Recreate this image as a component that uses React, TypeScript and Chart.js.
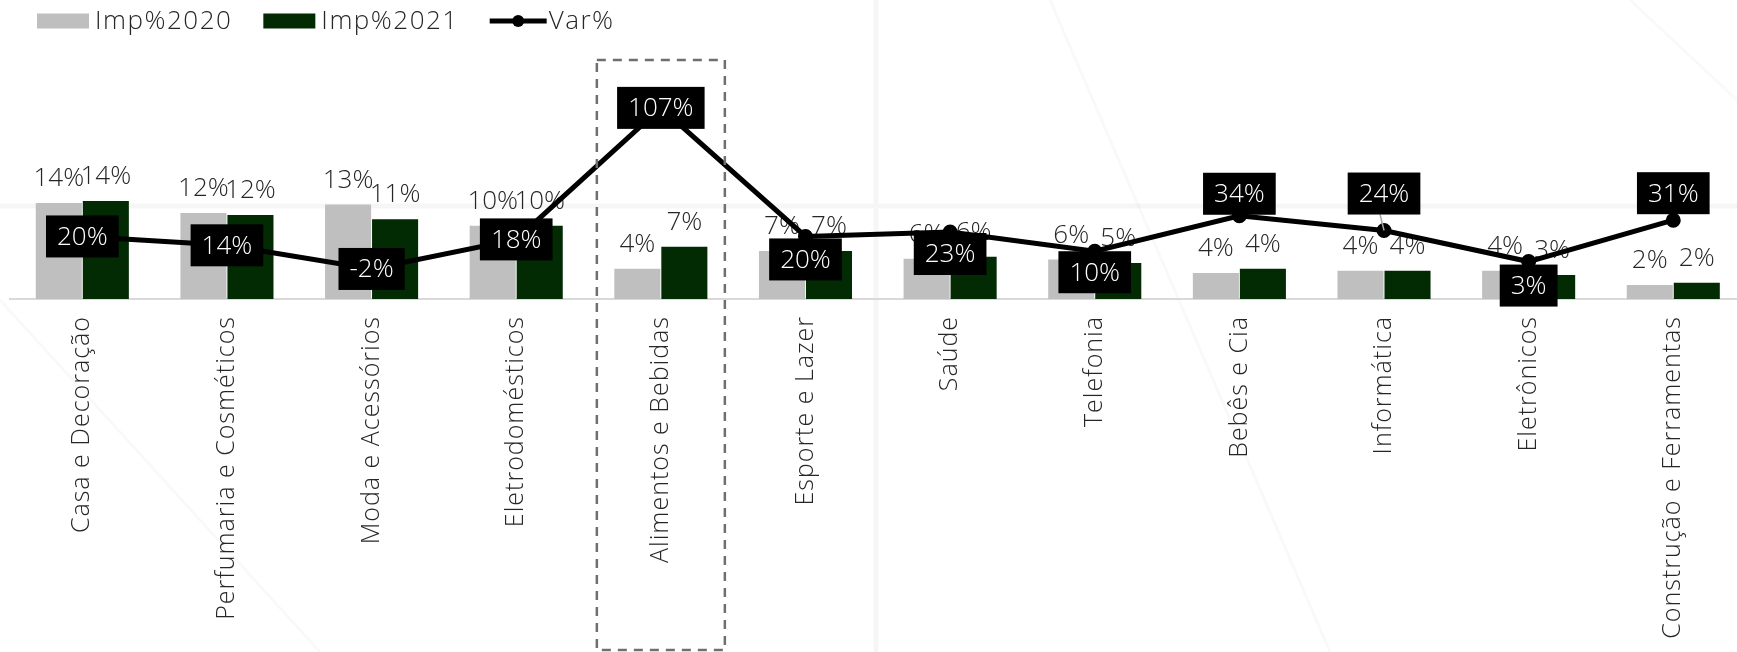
import React, { useEffect, useRef } from 'react';
import { Chart, registerables } from 'chart.js';

Chart.register(...registerables);

const categories = [
  'Casa e Decoração',
  'Perfumaria e Cosméticos',
  'Moda e Acessórios',
  'Eletrodomésticos',
  'Alimentos e Bebidas',
  'Esporte e Lazer',
  'Saúde',
  'Telefonia',
  'Bebês e Cia',
  'Informática',
  'Eletrônicos',
  'Construção e Ferramentas',
];
const imp2020 = [13.6, 12.2, 13.4, 10.4, 4.3, 6.8, 5.7, 5.6, 3.7, 4.0, 4.0, 2.0];
const imp2021 = [13.9, 11.9, 11.3, 10.4, 7.4, 6.8, 6.0, 5.1, 4.3, 4.0, 3.4, 2.3];
const varPct = [20, 14, -2, 18, 107, 20, 23, 10, 34, 24, 3, 31];
const seriesNames = ['Imp%2020', 'Imp%2021', 'Var%'];
const highlightIndex = 4;

// label placement (layout only): vertical shift of Var% label boxes relative to their point
const varLabelShift = [0, 0, 0, 0, 0, 23, 22, 21, -22, -37, 24, -27];

const FONT = '"Open Sans", "Noto Sans", sans-serif';
const GRAY = '#bfbfbf';
const GREEN = '#022b04';
const TEXT = '#262626';
const W = 1760;
const H = 652;

export default function App() {
  const ref = useRef<HTMLCanvasElement | null>(null);

  useEffect(() => {
    const canvas = ref.current;
    if (!canvas) return;

    const background = {
      id: 'background',
      beforeDraw(chart: any) {
        const ctx = chart.ctx;
        ctx.save();
        ctx.fillStyle = '#ffffff';
        ctx.fillRect(0, 0, chart.width, chart.height);
        ctx.strokeStyle = 'rgba(0,0,0,0.035)';
        ctx.lineWidth = 5;
        ctx.beginPath();
        ctx.moveTo(0, 206);
        ctx.lineTo(chart.width, 206);
        ctx.moveTo(876, 0);
        ctx.lineTo(876, chart.height);
        ctx.stroke();
        ctx.lineWidth = 3;
        ctx.strokeStyle = 'rgba(0,0,0,0.025)';
        ctx.beginPath();
        ctx.moveTo(1630, 0);
        ctx.lineTo(1737, 100);
        ctx.moveTo(1050, 0);
        ctx.lineTo(1330, 652);
        ctx.moveTo(0, 300);
        ctx.lineTo(320, 652);
        ctx.stroke();
        ctx.restore();
        (ctx as any).letterSpacing = '1px';
      },
    };

    const barLabels = {
      id: 'barLabels',
      afterDatasetDraw(chart: any, args: any) {
        const meta = args.meta;
        if (meta.type !== 'bar') return;
        const ds = chart.data.datasets[args.index];
        const ctx = chart.ctx;
        ctx.save();
        (ctx as any).letterSpacing = '0px';
        ctx.font = `300 26px ${FONT}`;
        ctx.fillStyle = TEXT;
        ctx.textAlign = 'center';
        ctx.textBaseline = 'alphabetic';
        meta.data.forEach((el: any, i: number) => {
          ctx.fillText(Math.round(ds.data[i]) + '%', el.x, el.y - 17);
        });
        ctx.restore();
      },
    };

    const varLabels = {
      id: 'varLabels',
      afterDatasetsDraw(chart: any) {
        const idx = chart.data.datasets.findIndex((d: any) => d.type === 'line');
        const meta = chart.getDatasetMeta(idx);
        const ds = chart.data.datasets[idx];
        const ctx = chart.ctx;
        ctx.save();
        (ctx as any).letterSpacing = '0px';
        ctx.font = `300 26px ${FONT}`;
        meta.data.forEach((pt: any, i: number) => {
          const text = ds.data[i] + '%';
          const tw = ctx.measureText(text).width;
          const bw = tw + 22;
          const bh = 42;
          const cx = pt.x;
          const cy = pt.y + varLabelShift[i];
          if (Math.abs(varLabelShift[i]) > 30) {
            ctx.strokeStyle = '#a6a6a6';
            ctx.lineWidth = 1.5;
            ctx.beginPath();
            ctx.moveTo(pt.x, pt.y);
            ctx.lineTo(cx - 4, cy + bh / 2);
            ctx.stroke();
          }
          ctx.fillStyle = '#000000';
          ctx.fillRect(cx - bw / 2, cy - bh / 2, bw, bh);
          ctx.fillStyle = '#ffffff';
          ctx.textAlign = 'center';
          ctx.textBaseline = 'middle';
          ctx.fillText(text, cx, cy + 1);
        });
        ctx.restore();
      },
    };

    const highlight = {
      id: 'highlight',
      afterDraw(chart: any) {
        const x = chart.scales.x;
        const c = x.getPixelForValue(highlightIndex);
        const half = 64;
        const ctx = chart.ctx;
        ctx.save();
        ctx.strokeStyle = '#6f6f6f';
        ctx.lineWidth = 2.5;
        ctx.setLineDash([9, 7]);
        ctx.strokeRect(c - half, chart.chartArea.top, half * 2, chart.height - 2 - chart.chartArea.top);
        ctx.restore();
      },
    };

    const legend = {
      id: 'customLegend',
      afterDraw(chart: any) {
        const ctx = chart.ctx;
        ctx.save();
        ctx.font = `300 26px ${FONT}`;
        (ctx as any).letterSpacing = '1.5px';
        ctx.textBaseline = 'middle';
        ctx.textAlign = 'left';
        const cy = 21;
        let x = 37;
        chart.data.datasets.forEach((ds: any) => {
          if (ds.type === 'line') {
            ctx.strokeStyle = '#000';
            ctx.lineWidth = 5;
            ctx.beginPath();
            ctx.moveTo(x, cy);
            ctx.lineTo(x + 57, cy);
            ctx.stroke();
            ctx.fillStyle = '#000';
            ctx.beginPath();
            ctx.arc(x + 28.5, cy, 6, 0, Math.PI * 2);
            ctx.fill();
            x += 59;
          } else {
            ctx.fillStyle = ds.backgroundColor;
            ctx.fillRect(x, cy - 7.5, 52, 15);
            x += 58;
          }
          ctx.fillStyle = TEXT;
          ctx.fillText(ds.label, x, cy + 1);
          x += ctx.measureText(ds.label).width + 31;
        });
        ctx.restore();
      },
    };

    const chart = new Chart(canvas, {
      type: 'bar',
      data: {
        labels: categories,
        datasets: [
          {
            type: 'bar',
            label: seriesNames[0],
            data: imp2020,
            backgroundColor: GRAY,
            yAxisID: 'y',
            order: 1,
            categoryPercentage: 0.65,
            barPercentage: 0.98,
          },
          {
            type: 'bar',
            label: seriesNames[1],
            data: imp2021,
            backgroundColor: GREEN,
            yAxisID: 'y',
            order: 1,
            categoryPercentage: 0.65,
            barPercentage: 0.98,
          },
          {
            type: 'line',
            label: seriesNames[2],
            data: varPct,
            borderColor: '#000000',
            backgroundColor: '#000000',
            borderWidth: 5,
            pointRadius: 5,
            pointBackgroundColor: '#000000',
            pointBorderColor: '#000000',
            tension: 0,
            yAxisID: 'y1',
            order: 0,
          } as any,
        ],
      },
      options: {
        responsive: false,
        animation: false,
        layout: { padding: { top: 60, left: 7.6, right: W - 1745.6, bottom: 0 } },
        plugins: {
          legend: { display: false },
          tooltip: { enabled: false },
        },
        scales: {
          x: {
            type: 'category',
            offset: true,
            grid: { display: false, drawTicks: false },
            border: { display: true, color: '#d9d9d9', width: 2 },
            ticks: {
              autoSkip: false,
              maxRotation: 90,
              minRotation: 90,
              padding: 17,
              color: TEXT,
              font: { family: FONT, size: 25, weight: '300' as any },
            },
            afterFit: (s: any) => {
              s.height = H - 299;
            },
          },
          y: {
            display: false,
            min: 0,
            max: 33.9,
          },
          y1: {
            display: false,
            min: -22.33,
            max: 139.4,
          },
        },
      },
      plugins: [background, barLabels, varLabels, highlight, legend],
    });

    return () => chart.destroy();
  }, []);

  return (
    <div
      style={{
        position: 'absolute',
        left: 0,
        top: 0,
        width: 1737,
        height: H,
        overflow: 'hidden',
        background: '#fff',
      }}
    >
      <canvas ref={ref} width={W} height={H} style={{ width: W, height: H, display: 'block' }} />
    </div>
  );
}
